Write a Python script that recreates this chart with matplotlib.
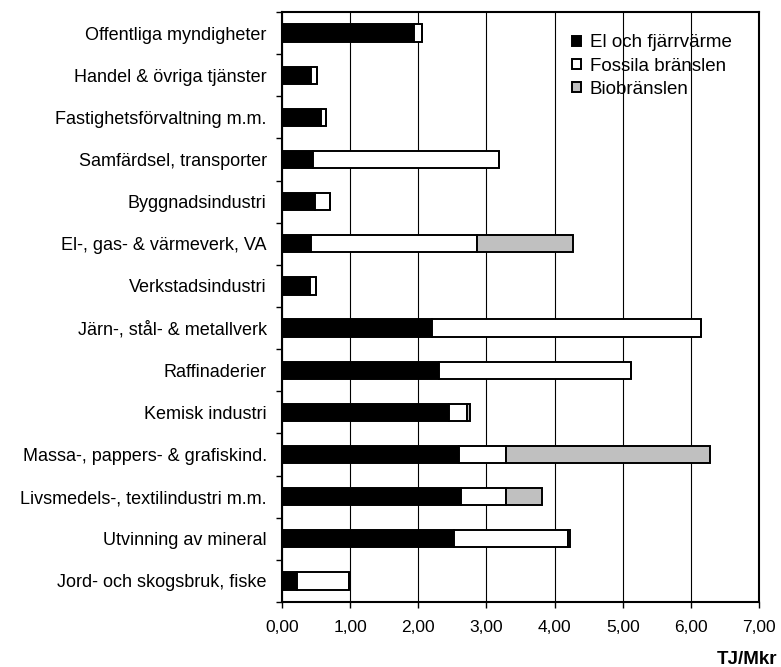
import numpy as np
import matplotlib.pyplot as plt
from matplotlib.ticker import FixedLocator, FuncFormatter

plt.rcParams['font.family'] = ['Liberation Sans', 'DejaVu Sans']

# Sektorer, nerifrån och upp
sektorer = ['Jord- och skogsbruk, fiske', 'Utvinning av mineral',
            'Livsmedels-, textilindustri m.m.', 'Massa-, pappers- & grafiskind.',
            'Kemisk industri', 'Raffinaderier', 'Järn-, stål- & metallverk',
            'Verkstadsindustri', 'El-, gas- & värmeverk, VA', 'Byggnadsindustri',
            'Samfärdsel, transporter', 'Fastighetsförvaltning m.m.',
            'Handel & övriga tjänster', 'Offentliga myndigheter']
el = [0.22, 2.52, 2.62, 2.59, 2.45, 2.31, 2.20, 0.41, 0.43, 0.48, 0.46, 0.58, 0.43, 1.94]
fossil = [0.77, 1.68, 0.66, 0.69, 0.27, 2.81, 3.95, 0.09, 2.43, 0.23, 2.73, 0.07, 0.09, 0.11]
bio = [0.00, 0.03, 0.53, 3.00, 0.04, 0.00, 0.00, 0.00, 1.41, 0.00, 0.00, 0.00, 0.00, 0.00]
serier = ['El och fjärrvärme', 'Fossila bränslen', 'Biobränslen']
farger = ['black', 'white', '#c0c0c0']

fig = plt.figure(figsize=(7.81, 6.67), dpi=100)
ax = fig.add_axes([0.361, 0.0975, 0.611, 0.8845])

y = np.arange(len(sektorer))
vanster = np.zeros(len(sektorer))
for namn, varden, farg in zip(serier, [el, fossil, bio], farger):
    ax.barh(y, varden, left=vanster, height=0.41, color=farg, edgecolor='black',
            linewidth=1.4, label=namn, zorder=3)
    vanster += np.array(varden)

ax.set_xlim(0, 7)
ax.set_ylim(-0.5, len(sektorer) - 0.5)
ax.set_xticks(np.arange(0, 8, 1))
ax.xaxis.set_major_formatter(FuncFormatter(lambda v, p: f"{v:.2f}".replace('.', ',')))
ax.set_yticks(y)
ax.set_yticklabels(sektorer)
ax.yaxis.set_minor_locator(FixedLocator(np.arange(-0.5, len(sektorer), 1)))
ax.tick_params(axis='y', which='major', length=0, pad=11, labelsize=13)
ax.tick_params(axis='y', which='minor', length=4, width=1, direction='out')
ax.tick_params(axis='x', length=4, width=1, direction='out', labelsize=12.5, pad=9)
ax.grid(axis='x', color='black', linewidth=0.8, zorder=0)
for s in ax.spines.values():
    s.set_linewidth(1.5)

ax.legend(loc='upper left', bbox_to_anchor=(0.608, 0.962), frameon=False,
          fontsize=13.5, handlelength=0.45, handleheight=0.45, borderpad=0,
          borderaxespad=0, handletextpad=0.5, labelspacing=0.33)
fig.text(777 / 781, 1 - 659 / 667, 'TJ/Mkr', fontsize=13.5, fontweight='bold',
         ha='right', va='center')

fig.savefig('out.png', dpi=100)
